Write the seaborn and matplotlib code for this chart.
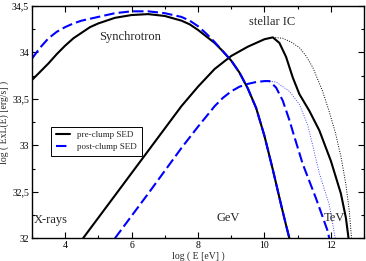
import matplotlib
matplotlib.use("Agg")
import matplotlib.pyplot as plt
from matplotlib.ticker import MultipleLocator, FuncFormatter
import seaborn as sns

# synchrotron component
sync_pre_x = [3.0, 3.25, 3.5, 3.75, 4.0, 4.25, 4.5, 4.75, 5.0, 5.5, 6.0, 6.5, 7.0, 7.5, 7.75, 8.0, 8.25, 8.5,
              8.75, 9.0, 9.25, 9.5, 9.75, 10.0, 10.25, 10.5, 10.65, 10.75]
sync_pre_y = [33.70, 33.79, 33.88, 33.98, 34.07, 34.15, 34.21, 34.27, 34.31, 34.37, 34.40, 34.41, 34.39, 34.34, 34.30, 34.24, 34.17, 34.10,
              34.01, 33.91, 33.78, 33.61, 33.40, 33.10, 32.74, 32.36, 32.14, 32.00]
sync_post_x = [3.0, 3.25, 3.5, 3.75, 4.0, 4.25, 4.5, 4.75, 5.0, 5.5, 6.0, 6.5, 7.0, 7.5, 7.75, 8.0, 8.25, 8.5,
               8.75, 9.0, 9.25, 9.5, 9.75, 10.0, 10.25, 10.5, 10.65, 10.75]
sync_post_y = [33.93, 34.05, 34.15, 34.22, 34.27, 34.31, 34.34, 34.36, 34.38, 34.42, 34.44, 34.44, 34.42, 34.38, 34.34, 34.28, 34.20, 34.11,
               34.01, 33.91, 33.78, 33.61, 33.40, 33.10, 32.74, 32.36, 32.14, 32.00]

# stellar IC component
ic_pre_x = [4.54, 5.5, 6.5, 7.5, 8.0, 8.5, 9.0, 9.5, 9.75, 10.0, 10.25, 10.45, 10.65, 10.85, 11.05, 11.35, 11.65, 12.0, 12.3, 12.45, 12.53]
ic_pre_y = [32.00, 32.46, 32.94, 33.42, 33.63, 33.82, 33.96, 34.06, 34.10, 34.14, 34.16, 34.10, 33.95, 33.73, 33.55, 33.37, 33.16, 32.83, 32.48, 32.22, 32.00]
ic_pre_nocut_x = [10.25, 10.55, 10.8, 11.05, 11.25, 11.45, 11.75, 11.95, 12.13, 12.3, 12.45, 12.55, 12.62]
ic_pre_nocut_y = [34.16, 34.15, 34.11, 34.05, 33.96, 33.84, 33.58, 33.36, 33.14, 32.88, 32.58, 32.30, 32.00]
ic_post_x = [5.5, 6.5, 7.5, 8.0, 8.5, 8.75, 9.0, 9.25, 9.5, 9.75, 10.0, 10.15, 10.35, 10.55, 10.75, 10.85, 11.15, 11.55, 11.9, 11.95]
ic_post_y = [32.00, 32.48, 32.97, 33.20, 33.42, 33.51, 33.58, 33.63, 33.66, 33.68, 33.69, 33.69, 33.62, 33.48, 33.27, 33.15, 32.80, 32.43, 32.08, 32.00]
ic_post_nocut_x = [10.15, 10.35, 10.75, 11.05, 11.3, 11.45, 11.65, 11.95, 12.13]
ic_post_nocut_y = [33.69, 33.68, 33.58, 33.44, 33.22, 33.00, 32.70, 32.36, 32.00]

y_ticks = [32.0, 32.5, 33.0, 33.5, 34.0, 34.5]

sns.set_theme(style="ticks")
plt.rcParams["font.family"] = ["Liberation Serif", "DejaVu Serif"]

fig, ax = plt.subplots(figsize=(3.66, 2.61), dpi=100)
fig.subplots_adjust(left=0.087, right=0.995, top=0.978, bottom=0.087)

kw = dict(ax=ax, sort=False, estimator=None)
sns.lineplot(x=ic_pre_nocut_x, y=ic_pre_nocut_y, color="black", lw=0.7, linestyle=(0, (1, 1.5)), **kw)
sns.lineplot(x=ic_post_nocut_x, y=ic_post_nocut_y, color="#4a4aff", lw=0.7, linestyle=(0, (1, 1.5)), **kw)
sns.lineplot(x=sync_pre_x, y=sync_pre_y, color="black", lw=1.5, label="pre-clump SED", **kw)
sns.lineplot(x=ic_pre_x, y=ic_pre_y, color="black", lw=1.5, **kw)
sns.lineplot(x=sync_post_x, y=sync_post_y, color="#0000ff", lw=1.5, linestyle=(0, (5, 2)), label="post-clump SED", **kw)
sns.lineplot(x=ic_post_x, y=ic_post_y, color="#0000ff", lw=1.5, linestyle=(0, (5, 2)), **kw)

ax.set_xlim(3, 13)
ax.set_ylim(32, 34.5)
ax.xaxis.set_major_locator(MultipleLocator(2))
ax.xaxis.set_minor_locator(MultipleLocator(1))
ax.set_yticks(y_ticks)
ax.yaxis.set_minor_locator(MultipleLocator(0.25))
ax.yaxis.set_major_formatter(FuncFormatter(lambda v, p: f"{v:g}".replace(".", ",")))
ax.tick_params(which="both", direction="in", top=True, right=True, labelsize=7, colors="black", pad=2)
ax.tick_params(which="major", length=4, width=0.8)
ax.tick_params(which="minor", length=2, width=0.8)
for s in ax.spines.values():
    s.set_linewidth(1.0)
    s.set_color("black")

ax.set_xlabel("log ( E [eV] )", fontsize=7, labelpad=1)
ax.set_ylabel("log ( ExL(E) [erg/s] )", fontsize=7, labelpad=2)

ax.text(5.97, 34.16, "Synchrotron", fontsize=9, ha="center", va="center")
ax.text(10.23, 34.33, "stellar IC", fontsize=9, ha="center", va="center")
ax.text(3.57, 32.2, "X-rays", fontsize=9, ha="center", va="center")
ax.text(8.91, 32.22, "GeV", fontsize=9, ha="center", va="center")
ax.text(12.09, 32.22, "TeV", fontsize=9, ha="center", va="center")

leg = ax.legend(loc="upper left", bbox_to_anchor=(0.045, 0.50), fontsize=6.5, frameon=True,
                fancybox=False, edgecolor="black", framealpha=1, handlelength=1.6,
                borderpad=0.5, labelspacing=0.4, handletextpad=0.8)
leg.get_frame().set_linewidth(0.7)

fig.savefig("out.png", dpi=100)
